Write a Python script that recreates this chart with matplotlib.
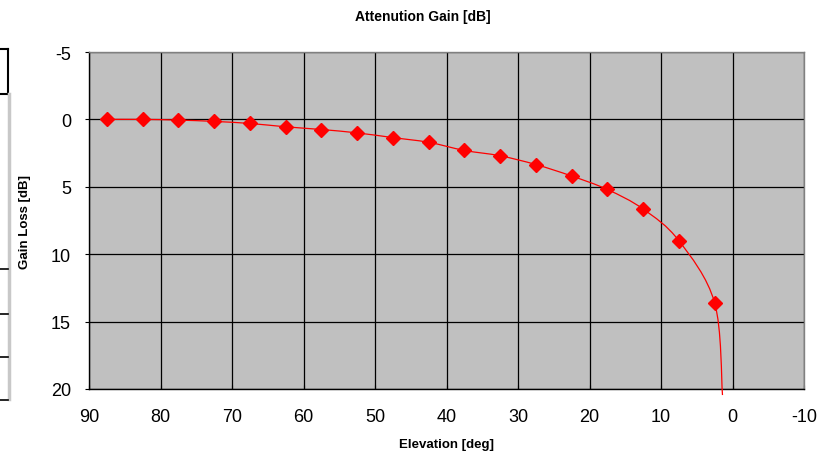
"""
Attenuation gain vs elevation: spreadsheet-style chart with grey plot area,
black grid, reversed axes and a smoothed red line through diamond markers.
"""
import matplotlib
matplotlib.use("Agg")
import matplotlib.pyplot as plt
from matplotlib.lines import Line2D
from matplotlib.path import Path
from matplotlib.patches import PathPatch

plt.rcParams["font.family"] = ["Liberation Sans", "DejaVu Sans"]
plt.rcParams["axes.unicode_minus"] = False

PLOT_BG = "#C0C0C0"
RED = "#FF0000"

# marker data (elevation deg, gain loss dB)
elevation = [87.5, 82.5, 77.5, 72.5, 67.5, 62.5, 57.5, 52.5, 47.5,
             42.5, 37.5, 32.5, 27.5, 22.5, 17.5, 12.5, 7.5, 2.5]
gain_loss = [0.0, 0.0, 0.05, 0.15, 0.3, 0.55, 0.75, 1.0, 1.35,
             1.7, 2.3, 2.7, 3.35, 4.2, 5.2, 6.65, 9.0, 13.6]

# the curve continues past the last marker down to the bottom of the chart
curve_end_elev = 1.4
curve_end_loss = 20.45

x_ticks = [90, 80, 70, 60, 50, 40, 30, 20, 10, 0, -10]
y_ticks = [-5, 0, 5, 10, 15, 20]


def smooth_path(xs, ys):
    # Excel-style smoothing: cubic bezier segments with catmull-rom handles
    pts = list(zip(xs, ys))
    verts = [pts[0]]
    codes = [Path.MOVETO]
    n = len(pts)
    for i in range(n - 1):
        p0 = pts[max(i - 1, 0)]
        p1 = pts[i]
        p2 = pts[i + 1]
        p3 = pts[min(i + 2, n - 1)]
        c1 = (p1[0] + (p2[0] - p0[0]) / 6, p1[1] + (p2[1] - p0[1]) / 6)
        c2 = (p2[0] - (p3[0] - p1[0]) / 6, p2[1] - (p3[1] - p1[1]) / 6)
        verts += [c1, c2, p2]
        codes += [Path.CURVE4] * 3
    return Path(verts, codes)


fig = plt.figure(figsize=(8.27, 4.52), dpi=100)
ax = fig.add_axes([89 / 827, 1 - 390 / 452, 715 / 827, 337 / 452])
ax.set_facecolor(PLOT_BG)

ax.set_xlim(90, -10)
ax.set_ylim(20, -5)
ax.set_xticks(x_ticks)
ax.set_yticks(y_ticks)
ax.grid(True, color="black", linewidth=0.9, zorder=1)
ax.set_axisbelow(True)

for side in ["top", "right"]:
    ax.spines[side].set_color("#808080")
    ax.spines[side].set_linewidth(1.0)
for side in ["left", "bottom"]:
    ax.spines[side].set_color("black")
    ax.spines[side].set_linewidth(1.0)

ax.tick_params(axis="y", direction="out", length=3, width=0.8,
               labelsize=13, pad=10)
ax.tick_params(axis="x", direction="in", length=3, width=0.8,
               labelsize=13, pad=14)

curve = smooth_path(elevation + [curve_end_elev], gain_loss + [curve_end_loss])
ax.add_patch(PathPatch(curve, facecolor="none", edgecolor=RED,
                       linewidth=0.9, zorder=3, clip_on=False))
ax.plot(elevation, gain_loss, linestyle="none", marker="D", markersize=7,
        color=RED, markeredgecolor=RED, zorder=4)

fig.text(423 / 827, 1 - 17 / 452, "Attenution Gain [dB]", ha="center",
         va="center", fontsize=10, fontweight="bold")
fig.text(447 / 827, 1 - 445 / 452, "Elevation [deg]", ha="center",
         va="center", fontsize=9.5, fontweight="bold")
fig.text(25 / 827, 1 - 222 / 452, "Gain Loss [dB]", ha="center",
         va="center", fontsize=9.5, fontweight="bold", rotation=90)

# leftover cell borders from the spreadsheet crop on the left edge
def px_line(xs, ys, color="black", lw=1.5):
    fig.add_artist(Line2D([x / 827 for x in xs], [1 - y / 452 for y in ys],
                          color=color, linewidth=lw, transform=fig.transFigure))

px_line([0, 7.5], [50, 50])
px_line([7.5, 7.5], [50, 95])
px_line([0, 7.5], [95, 95])
px_line([8.5, 8.5], [95, 400], color="#C8C8C8", lw=2.5)
for yy in [270, 315, 358, 401]:
    px_line([0, 7.5], [yy, yy], lw=1.2)

fig.savefig("out.png", dpi=100)
